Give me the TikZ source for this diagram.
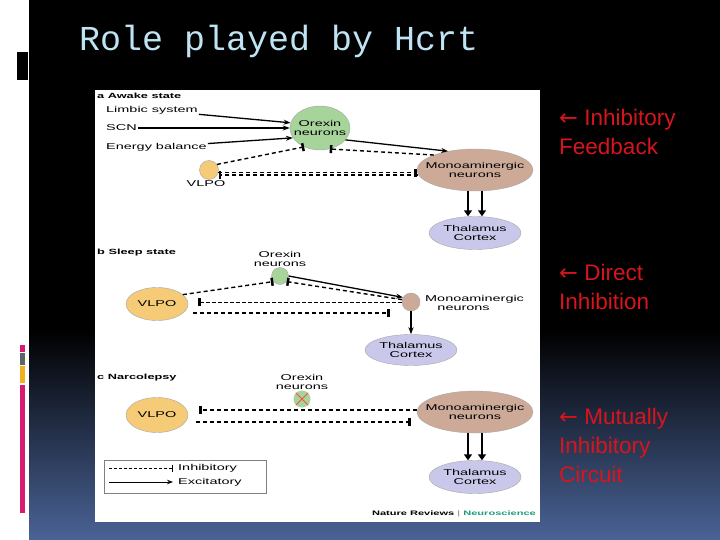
\documentclass[tikz,border=0pt]{standalone}
\usepackage{fontspec}
\setmainfont{Liberation Sans}
\newfontfamily\figfont[FakeStretch=1.7]{Liberation Sans}
\newfontfamily\titlefont{Liberation Mono}
\newfontfamily\symfont{DejaVu Sans}
\usetikzlibrary{arrows.meta,shapes.geometric,positioning}
\definecolor{slideblue}{HTML}{4A6396}
\definecolor{titleblue}{HTML}{BFE3F2}
\definecolor{notered}{HTML}{D8141C}
\definecolor{orexgreen}{HTML}{A6D49A}
\definecolor{monobrown}{HTML}{CDAA98}
\definecolor{vlpoorange}{HTML}{F5CB78}
\definecolor{thalblue}{HTML}{C9C8EA}
\definecolor{barpink}{HTML}{D81B72}
\definecolor{bargray}{HTML}{5C6468}
\definecolor{barorange}{HTML}{F2B01E}
\definecolor{neuroteal}{HTML}{1E9C7A}
\tikzset{
  cell/.style={ellipse, draw=gray!70, font=\figfont\fontsize{8.5}{9}\selectfont, align=center, inner xsep=-16pt, inner ysep=-3pt},
  lbl/.style={font=\figfont\fontsize{8.5}{9}\selectfont, align=center, inner sep=1pt},
  head/.style={font=\figfont\bfseries\fontsize{7.5}{8}\selectfont, anchor=west, inner sep=0pt},
  note/.style={font=\fontsize{22.5}{29}\selectfont, text=notered, anchor=north west, align=left, inner sep=0pt},
  exc/.style={line width=1.3pt, -{Stealth[length=7pt,width=5pt]}},
  inh/.style={line width=1.4pt, dash pattern=on 4pt off 3pt, -{Bar[width=8pt,line width=2.5pt]}},
  big/.style={line width=2pt, -{Triangle[length=6pt,width=8pt]}}
}
\begin{document}
\begin{tikzpicture}[x=1pt, y=-1pt]
  % slide background
  \useasboundingbox (0,0) rectangle (720,540);
  \fill[white] (0,0) rectangle (29,540);
  \fill[black] (29,0) rectangle (720,330);
  \shade[top color=black, bottom color=slideblue] (29,330) rectangle (720,540);
  \fill[black] (17,52) rectangle (28,80);
  \fill[barpink] (20,345) rectangle (25,352);
  \fill[bargray] (20,353) rectangle (25,365);
  \fill[barorange] (20,366) rectangle (25,383);
  \fill[barpink] (20,385) rectangle (25,513);
  \node[anchor=west, text=titleblue, font=\titlefont\fontsize{35}{38}\selectfont, inner sep=0pt] (title) at (79,41) {Role played by Hcrt};

  % figure panel
  \fill[white] (95,90) rectangle (540,522);

  % a: awake state
  \node[head] (heada) at (97,96) {a Awake state};
  \node[lbl, anchor=west] (limbic) at (105,110) {Limbic system};
  \node[lbl, anchor=west] (scn) at (105,128) {SCN};
  \node[lbl, anchor=west] (energy) at (105,147) {Energy balance};
  \node[cell, fill=orexgreen, minimum width=60pt, minimum height=44pt] (orexa) at (320,128) {Orexin\\neurons};
  \node[cell, fill=monobrown, minimum width=116pt, minimum height=42pt] (monoa) at (475,170) {Monoaminergic\\neurons};
  \node[circle, draw=gray!70, fill=vlpoorange, minimum size=19pt, inner sep=0pt] (vlpoa) at (209,170) {};
  \node[lbl] (vlpoalbl) at (206,184) {VLPO};
  \node[cell, fill=thalblue, minimum width=92pt, minimum height=33pt] (thala) at (475,233) {Thalamus\\Cortex};
  \draw[exc] (limbic) -- (orexa.170);
  \draw[exc] (scn) -- (orexa.west);
  \draw[exc] (energy) -- (orexa.200);
  \draw[exc] (orexa.-25) -- (monoa.145);
  \draw[inh] (monoa.160) -- (orexa.-65);
  \draw[inh] (vlpoa.35) -- (orexa.-130);
  \draw[inh] (monoa.185) -- (vlpoa.east |- monoa.185);
  \draw[inh] (vlpoa.-15) -- (monoa.west |- vlpoa.-15);
  \draw[big] ([xshift=-7pt]monoa.south) -- ([xshift=-7pt]thala.north);
  \draw[big] ([xshift=7pt]monoa.south) -- ([xshift=7pt]thala.north);

  % b: sleep state
  \node[head] (headb) at (97,253) {b Sleep state};
  \node[circle, draw=gray!70, fill=orexgreen, minimum size=17pt, inner sep=0pt] (orexb) at (280,276) {};
  \node[lbl, above=0pt of orexb] (orexblbl) {Orexin\\neurons};
  \node[cell, fill=vlpoorange, minimum width=62pt, minimum height=33pt] (vlpob) at (157,304) {VLPO};
  \node[circle, draw=gray!70, fill=monobrown, minimum size=18pt, inner sep=0pt] (monob) at (411,302) {};
  \node[lbl, anchor=west] (monoblbl) at (424,303) {Monoaminergic\\\hspace*{-22pt}neurons};
  \node[cell, fill=thalblue, minimum width=92pt, minimum height=31pt] (thalb) at (411,350) {Thalamus\\Cortex};
  \draw[exc] (orexb.east) -- (monob.150);
  \draw[inh] (monob.165) -- (orexb.-40);
  \draw[inh] (vlpob.20) -- (orexb.-140);
  \draw[line width=0.6pt, dash pattern=on 4pt off 2pt, -{Bar[width=8pt,line width=2.5pt]}] (monob.west) -- ([xshift=10pt]vlpob.east |- monob.west);
  \draw[inh, line width=2pt] ([xshift=10pt]vlpob.-20) -- ([xshift=-12pt]monob.west |- vlpob.-20);
  \draw[exc] (monob) -- (thalb);

  % c: narcolepsy
  \node[head] (headc) at (97,378) {c Narcolepsy};
  \node[circle, fill=orexgreen, minimum size=17pt, inner sep=0pt] (orexc) at (302,399) {};
  \draw[red!70, thick] (orexc.north west) -- (orexc.south east) (orexc.north east) -- (orexc.south west);
  \node[lbl] (orexclbl) at (302,382) {Orexin\\neurons};
  \node[cell, fill=vlpoorange, minimum width=62pt, minimum height=35pt] (vlpoc) at (157,415) {VLPO};
  \node[cell, fill=monobrown, minimum width=116pt, minimum height=42pt] (monoc) at (475,412) {Monoaminergic\\neurons};
  \node[cell, fill=thalblue, minimum width=92pt, minimum height=33pt] (thalc) at (475,477) {Thalamus\\Cortex};
  \coordinate (vtop) at (199,410);
  \coordinate (vbot) at (196,422);
  \draw[inh] (monoc.west |- vtop) -- (vtop);
  \draw[inh] (vbot) -- ([xshift=-6pt]monoc.west |- vbot);
  \draw[big] ([xshift=-7pt]monoc.south) -- ([xshift=-7pt]thalc.north);
  \draw[big] ([xshift=7pt]monoc.south) -- ([xshift=7pt]thalc.north);

  % legend
  \node[draw=gray, minimum width=162pt, minimum height=33pt, anchor=north west] (legend) at (104,460) {};
  \coordinate (la) at (109,468);
  \coordinate (lb) at (173,468);
  \coordinate (lc) at (109,482);
  \coordinate (ld) at (173,482);
  \draw[line width=1pt, dash pattern=on 3pt off 2pt, -{Bar[width=7pt,line width=1.2pt]}] (la) -- (lb);
  \draw[line width=1pt, -{Stealth[length=6pt]}] (lc) -- (ld);
  \node[lbl, anchor=west] (linh) at (177,468) {Inhibitory};
  \node[lbl, anchor=west] (lexc) at (177,482) {Excitatory};
  \node[anchor=east, inner sep=0pt, font=\figfont\bfseries\fontsize{6.5}{7}\selectfont] (credit) at (536,514) {Nature Reviews {\mdseries\color{gray}|} \textcolor{neuroteal}{Neuroscience}};

  % notes
  \node[note] (n1) at (559,109) {{\symfont ←} Inhibitory\\Feedback};
  \node[note] (n2) at (559,264) {{\symfont ←} Direct\\Inhibition};
  \node[note] (n3) at (559,408) {{\symfont ←} Mutually\\Inhibitory\\Circuit};
\end{tikzpicture}
\end{document}
